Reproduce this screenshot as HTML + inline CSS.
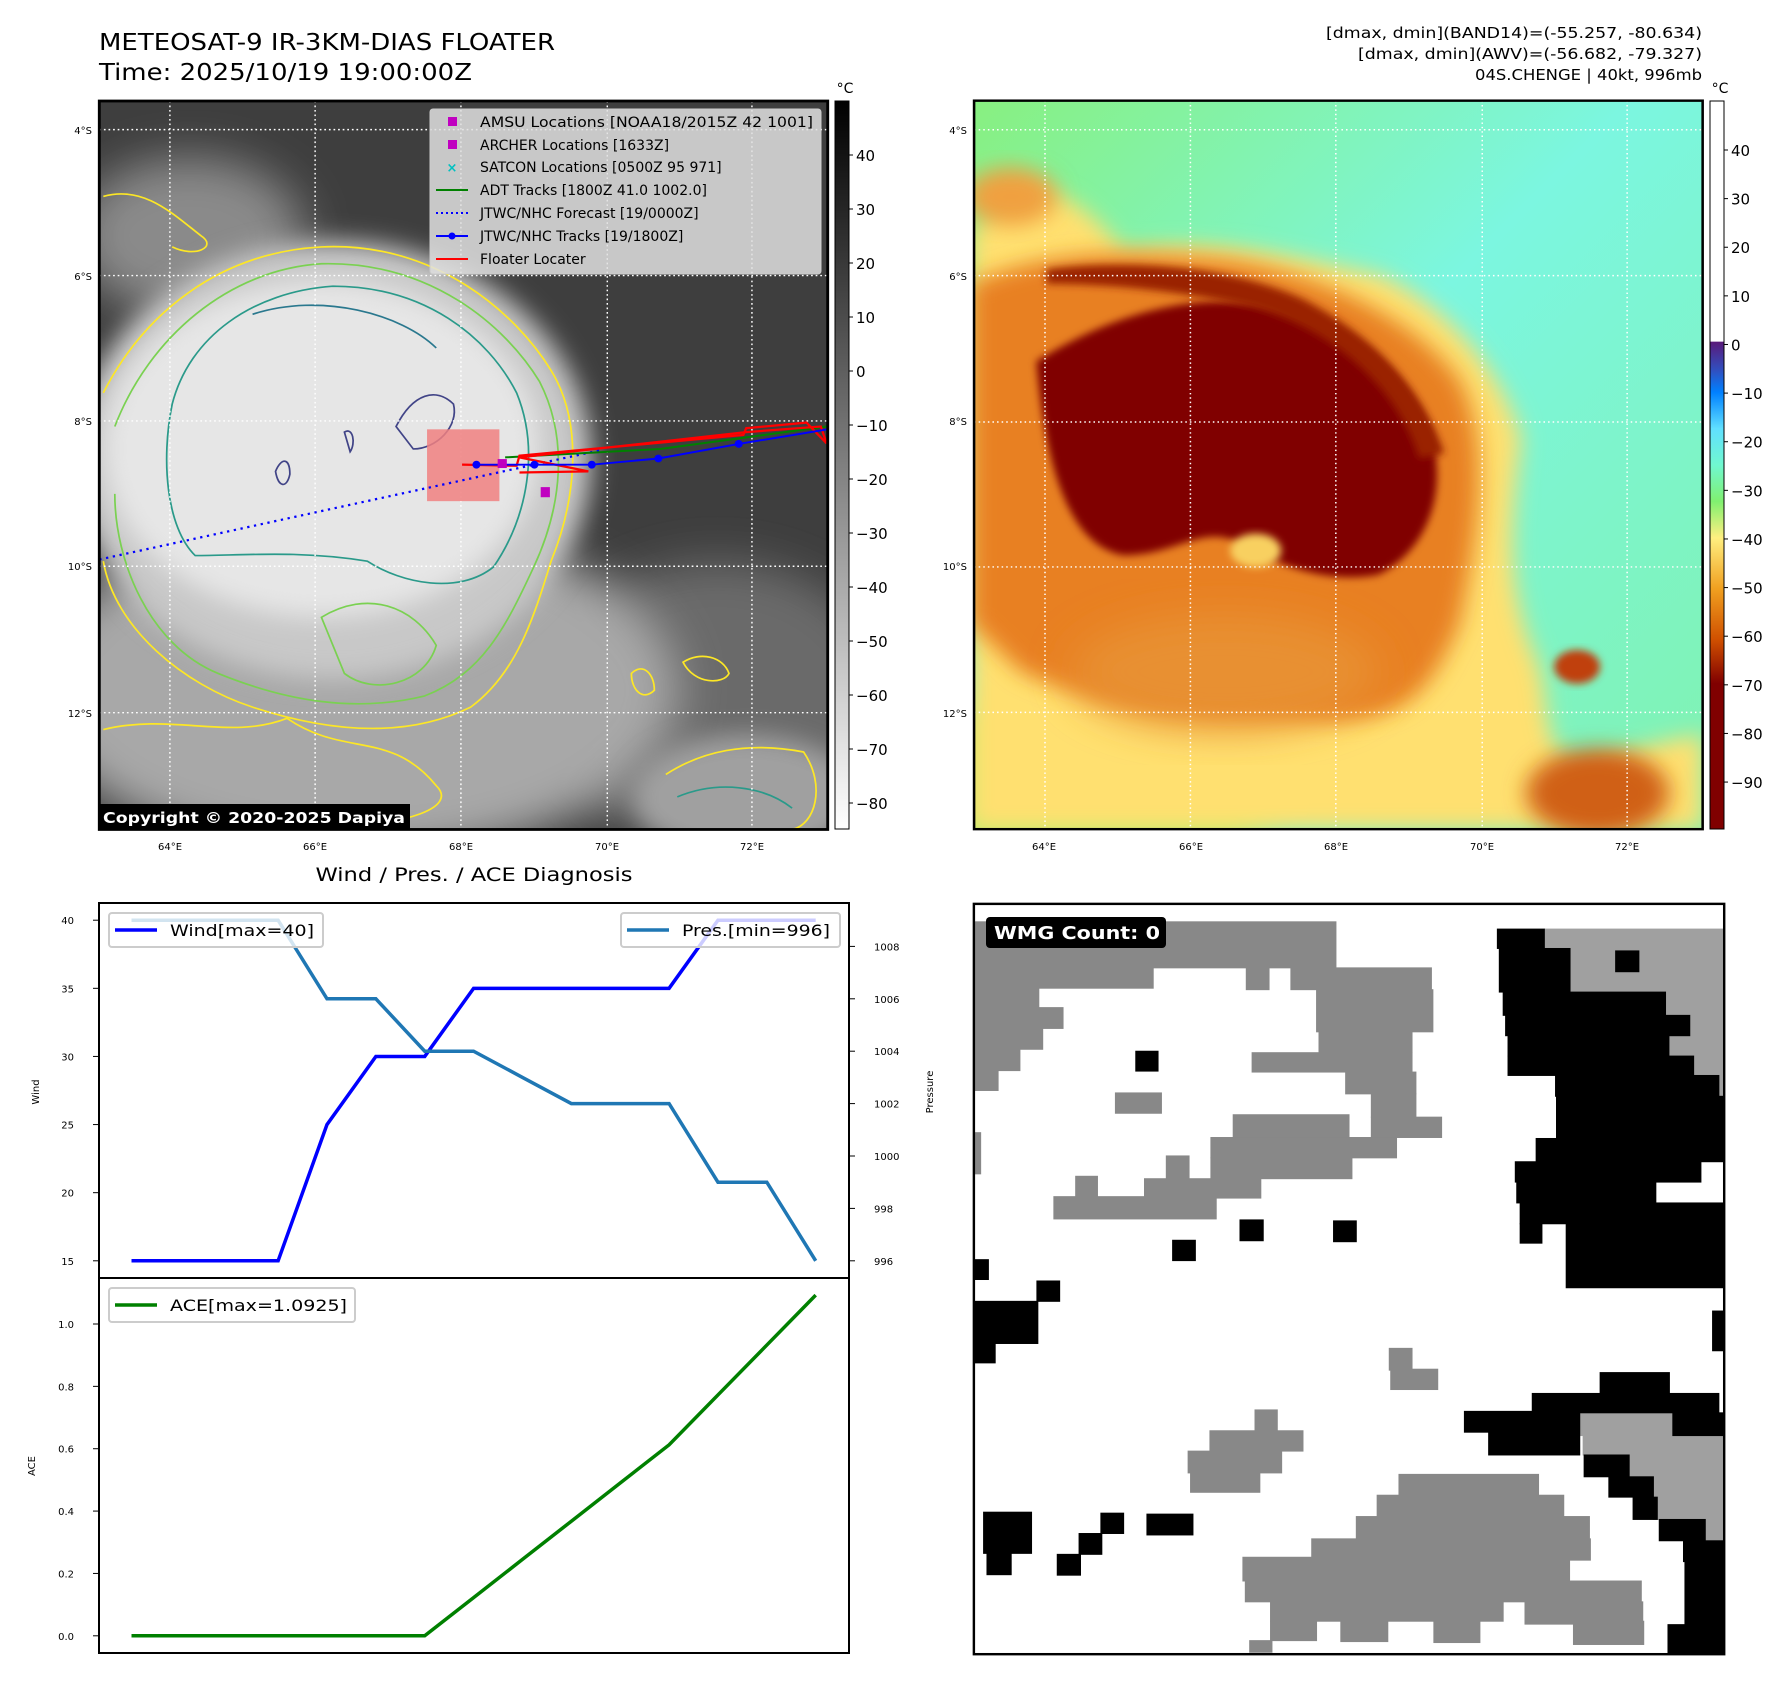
<!DOCTYPE html>
<html><head><meta charset="utf-8"><style>
html,body{margin:0;padding:0;background:#fff;}
svg{display:block;font-family:"DejaVu Sans","Liberation Sans",sans-serif;}
</style></head><body>
<svg id="fig" width="1792" height="1690" viewBox="0 0 1792 1690" xmlns="http://www.w3.org/2000/svg">
<defs>
<filter id="b8" x="-20%" y="-20%" width="140%" height="140%"><feGaussianBlur stdDeviation="8"/></filter>
<filter id="b20" x="-30%" y="-30%" width="160%" height="160%"><feGaussianBlur stdDeviation="22"/></filter>
<filter id="b40" x="-30%" y="-30%" width="160%" height="160%"><feGaussianBlur stdDeviation="40"/></filter>
<clipPath id="clipL"><rect x="173" y="180" width="1269" height="1298"/></clipPath>
<clipPath id="clipR"><rect x="8" y="22" width="1428" height="1503"/></clipPath>
<linearGradient id="cbGray" x1="0" y1="0" x2="0" y2="1"><stop offset="0" stop-color="#000"/><stop offset="1" stop-color="#fff"/></linearGradient>
<linearGradient id="cbColor" x1="0" y1="0" x2="0" y2="1">
<stop offset="0" stop-color="#fff"/><stop offset="0.33" stop-color="#fff"/>
<stop offset="0.331" stop-color="#5a1a7a"/><stop offset="0.37" stop-color="#3050c0"/><stop offset="0.4" stop-color="#0080ff"/>
<stop offset="0.45" stop-color="#60e0ff"/><stop offset="0.5" stop-color="#70f8d0"/><stop offset="0.55" stop-color="#80f070"/>
<stop offset="0.6" stop-color="#ffef80"/><stop offset="0.67" stop-color="#f0a020"/><stop offset="0.74" stop-color="#d05000"/>
<stop offset="0.8" stop-color="#800000"/><stop offset="1" stop-color="#800000"/></linearGradient>
<linearGradient id="bgR" x1="0" y1="0" x2="1" y2="1"><stop offset="0" stop-color="#88f080"/><stop offset="0.45" stop-color="#7cf6e0"/><stop offset="1" stop-color="#80f2b0"/></linearGradient>
</defs>
<rect width="1792" height="1690" fill="#fff"/>

<text x="99" y="50" font-size="23" textLength="456" lengthAdjust="spacingAndGlyphs">METEOSAT-9 IR-3KM-DIAS FLOATER</text>
<text x="99" y="80" font-size="23" textLength="373" lengthAdjust="spacingAndGlyphs">Time: 2025/10/19 19:00:00Z</text>
<g font-size="15">
<text x="1326" y="38" textLength="376" lengthAdjust="spacingAndGlyphs">[dmax, dmin](BAND14)=(-55.257, -80.634)</text>
<text x="1358" y="59" textLength="344" lengthAdjust="spacingAndGlyphs">[dmax, dmin](AWV)=(-56.682, -79.327)</text>
<text x="1475" y="80" textLength="227" lengthAdjust="spacingAndGlyphs">04S.CHENGE | 40kt, 996mb</text>
</g>

<g transform="scale(0.5740,0.5612)">
<g clip-path="url(#clipL)">
<rect x="173" y="180" width="1269" height="1298" fill="#3e3e3e"/>
<ellipse cx="1250" cy="1250" rx="300" ry="250" fill="#6a6a6a" filter="url(#b40)"/>
<ellipse cx="330" cy="420" rx="200" ry="140" fill="#8a8a8a" filter="url(#b40)"/>
<ellipse cx="620" cy="1230" rx="560" ry="300" fill="#a8a8a8" filter="url(#b40)"/>
<ellipse cx="1300" cy="1420" rx="200" ry="110" fill="#a0a0a0" filter="url(#b20)"/>
<ellipse cx="580" cy="820" rx="450" ry="390" fill="#c8c8c8" filter="url(#b20)"/>
<ellipse cx="560" cy="800" rx="380" ry="300" fill="#e6e6e6" filter="url(#b20)"/>
<g fill="none" stroke-width="3">
<path d="M180,700 C250,560 380,450 560,440 C760,430 900,560 960,660 C1020,760 1000,900 960,1000 C930,1100 900,1200 820,1260 C700,1320 560,1300 440,1260 C320,1220 200,1120 180,1000" stroke="#fde725"/>
<path d="M200,760 C260,600 400,480 560,470 C750,465 880,580 940,680 C990,780 980,900 930,1010 C880,1120 840,1200 740,1240 C620,1270 500,1250 380,1200 C260,1150 200,1000 200,880" stroke="#7ad151"/>
<path d="M300,720 C330,600 440,520 580,510 C740,510 850,600 900,700 C940,800 920,920 860,1010 C800,1060 700,1040 640,1000 C520,980 420,990 340,990 C290,940 280,820 300,720" stroke="#2a9a8a"/>
<path d="M440,560 C560,520 700,560 760,620" stroke="#2a788e"/>
<path d="M690,760 C720,700 760,690 790,720 C800,760 760,800 720,800 Z" stroke="#414487"/>
<path d="M480,840 C490,815 505,815 505,845 C500,870 485,870 480,840 Z" stroke="#414487"/>
<path d="M600,770 C615,760 620,790 610,805 Z" stroke="#414487"/>
<path d="M1190,1180 C1220,1160 1260,1170 1270,1200 C1260,1220 1210,1220 1190,1180 Z" stroke="#fde725"/>
<path d="M1100,1200 C1120,1180 1140,1200 1140,1230 C1120,1250 1100,1230 1100,1200 Z" stroke="#fde725"/>
<path d="M180,1300 C300,1270 400,1320 500,1280 C600,1350 680,1300 760,1400 C800,1440 700,1470 600,1470" stroke="#fde725"/>
<path d="M560,1100 C640,1050 720,1080 760,1150 C740,1220 650,1240 600,1200 Z" stroke="#7ad151"/>
<path d="M1160,1380 C1220,1340 1300,1320 1400,1340 C1440,1400 1420,1470 1380,1478" stroke="#fde725"/>
<path d="M1180,1420 C1250,1390 1330,1400 1380,1440" stroke="#2a9a8a"/>
<path d="M180,350 C250,330 300,380 350,420 C380,440 340,460 300,440" stroke="#fde725"/>
</g>
<g stroke="#fff" stroke-width="2.5" stroke-dasharray="3,5">
<line x1="296" y1="180" x2="296" y2="1478"/><line x1="549" y1="180" x2="549" y2="1478"/><line x1="803" y1="180" x2="803" y2="1478"/><line x1="1058" y1="180" x2="1058" y2="1478"/><line x1="1310" y1="180" x2="1310" y2="1478"/>
<line x1="173" y1="231" x2="1442" y2="231"/><line x1="173" y1="491" x2="1442" y2="491"/><line x1="173" y1="750" x2="1442" y2="750"/><line x1="173" y1="1009" x2="1442" y2="1009"/><line x1="173" y1="1270" x2="1442" y2="1270"/>
</g>
<rect x="744" y="765" width="126" height="128" fill="#f08080" fill-opacity="0.85"/>
<polyline points="173,997 1047,802" fill="none" stroke="#0000ff" stroke-width="4" stroke-dasharray="4,8"/>
<polyline points="880,815 1150,800 1440,760" fill="none" stroke="#008000" stroke-width="3.5"/>
<polyline points="805,828 900,830 905,812 1295,775 1300,763 1405,753 1440,790 1430,760 1300,770 905,815 1025,840 905,842" fill="none" stroke="#ff0000" stroke-width="4"/>
<polyline points="830,828 931,828 1031,828 1147,817 1287,791 1442,765" fill="none" stroke="#0000ff" stroke-width="3.5"/>
<g fill="#0000ff"><circle cx="830" cy="828" r="7"/><circle cx="931" cy="828" r="7"/><circle cx="1031" cy="828" r="7"/><circle cx="1147" cy="817" r="7"/><circle cx="1287" cy="791" r="7"/></g>
<rect x="867" y="818" width="16" height="16" fill="#c000c0"/><rect x="942" y="868" width="16" height="18" fill="#c000c0"/>
</g>
<rect x="173" y="180" width="1269" height="1298" fill="none" stroke="#000" stroke-width="5"/>
</g>
<g font-size="14">
<rect x="430" y="109" width="391" height="165" fill="#e0e0e0" fill-opacity="0.85" stroke="#ccc" rx="3"/>
<rect x="448" y="117" width="9" height="9" fill="#c000c0"/><text x="480" y="127" textLength="333" lengthAdjust="spacingAndGlyphs">AMSU Locations [NOAA18/2015Z 42 1001]</text>
<rect x="448" y="140" width="9" height="9" fill="#c000c0"/><text x="480" y="150">ARCHER Locations [1633Z]</text>
<text x="452" y="172" fill="#00c0c0" font-size="13" font-weight="bold" text-anchor="middle">×</text><text x="480" y="172">SATCON Locations [0500Z 95 971]</text>
<line x1="436" y1="190" x2="468" y2="190" stroke="#008000" stroke-width="2"/><text x="480" y="195">ADT Tracks [1800Z 41.0 1002.0]</text>
<line x1="436" y1="213" x2="468" y2="213" stroke="#0000ff" stroke-width="2" stroke-dasharray="2,3"/><text x="480" y="218">JTWC/NHC Forecast [19/0000Z]</text>
<line x1="436" y1="236" x2="468" y2="236" stroke="#0000ff" stroke-width="2"/><circle cx="452" cy="236" r="3.5" fill="#0000ff"/><text x="480" y="241">JTWC/NHC Tracks [19/1800Z]</text>
<line x1="436" y1="259" x2="468" y2="259" stroke="#ff0000" stroke-width="2"/><text x="480" y="264">Floater Locater</text>
</g>
<g><rect x="98" y="804" width="312" height="25" fill="#000"/><text x="103" y="823" font-size="15" font-weight="bold" fill="#fff" textLength="302" lengthAdjust="spacingAndGlyphs">Copyright © 2020-2025 Dapiya</text></g>
<g font-size="10" text-anchor="end">
<text x="92" y="134">4°S</text><text x="92" y="280">6°S</text><text x="92" y="425">8°S</text><text x="92" y="570">10°S</text><text x="92" y="717">12°S</text>
</g>
<g font-size="10" text-anchor="middle">
<text x="170" y="850">64°E</text><text x="315" y="850">66°E</text><text x="461" y="850">68°E</text><text x="607" y="850">70°E</text><text x="752" y="850">72°E</text>
<text x="1044" y="850">64°E</text><text x="1191" y="850">66°E</text><text x="1336" y="850">68°E</text><text x="1482" y="850">70°E</text><text x="1627" y="850">72°E</text>
</g>
<g font-size="10" text-anchor="end">
<text x="967" y="134">4°S</text><text x="967" y="280">6°S</text><text x="967" y="425">8°S</text><text x="967" y="570">10°S</text><text x="967" y="717">12°S</text>
</g>
<g>
<rect x="835" y="101" width="14" height="728" fill="url(#cbGray)" stroke="#000" stroke-width="1"/>
<text x="845" y="93" font-size="14" text-anchor="middle">°C</text>
<g id="cbLticks" font-size="15"></g>
</g>

<g transform="translate(970,90) scale(0.5102,0.4847)">
<g clip-path="url(#clipR)">
<rect x="8" y="22" width="1428" height="1503" fill="url(#bgR)"/>
<ellipse cx="200" cy="1450" rx="400" ry="200" fill="#b8f070" filter="url(#b40)"/>
<path d="M0,300 C100,150 200,200 300,330 C500,300 650,350 800,380 C950,450 1050,600 1080,720 C1060,900 1050,1000 1100,1150 C1150,1250 1100,1350 1200,1400 C1300,1350 1436,1330 1436,1330 L1436,1525 L0,1525 Z" fill="#ffe070" filter="url(#b20)"/>
<path d="M0,400 C150,330 300,330 500,350 C700,380 880,480 960,600 C1020,720 1000,900 960,1100 C900,1250 850,1300 700,1300 C500,1280 300,1300 100,1200 L0,1100 Z" fill="#e88020" filter="url(#b20)"/>
<path d="M130,560 C250,480 400,420 560,440 C720,470 840,560 900,700 C940,820 900,950 800,1000 C700,1020 600,980 520,930 C450,900 400,960 300,960 C200,940 150,800 130,560 Z" fill="#800000" filter="url(#b8)"/>
<path d="M150,370 C300,350 500,360 650,430 C780,500 880,600 930,750 L880,760 C840,620 720,500 560,450 C400,410 250,400 150,400 Z" fill="#9a2000" filter="url(#b8)"/>
<ellipse cx="560" cy="950" rx="50" ry="35" fill="#f8d060" filter="url(#b8)"/>
<ellipse cx="1190" cy="1190" rx="45" ry="35" fill="#c04010" filter="url(#b8)"/>
<ellipse cx="1230" cy="1450" rx="140" ry="90" fill="#d06018" filter="url(#b20)"/>
<ellipse cx="500" cy="1200" rx="300" ry="120" fill="#e89030" filter="url(#b40)"/>
<ellipse cx="80" cy="220" rx="90" ry="60" fill="#f0a040" filter="url(#b20)"/>
<g stroke="#fff" stroke-width="3" stroke-dasharray="3,6">
<line x1="147" y1="22" x2="147" y2="1525"/><line x1="432" y1="22" x2="432" y2="1525"/><line x1="717" y1="22" x2="717" y2="1525"/><line x1="1004" y1="22" x2="1004" y2="1525"/><line x1="1288" y1="22" x2="1288" y2="1525"/>
<line x1="8" y1="82" x2="1436" y2="82"/><line x1="8" y1="383" x2="1436" y2="383"/><line x1="8" y1="685" x2="1436" y2="685"/><line x1="8" y1="984" x2="1436" y2="984"/><line x1="8" y1="1284" x2="1436" y2="1284"/>
</g>
</g>
<rect x="8" y="22" width="1428" height="1503" fill="none" stroke="#000" stroke-width="5"/>
</g>
<g>
<rect x="1710" y="101" width="14" height="728" fill="url(#cbColor)" stroke="#000" stroke-width="1"/>
<text x="1720" y="93" font-size="14" text-anchor="middle">°C</text>
<g id="cbRticks" font-size="15"></g>
</g>

<g transform="translate(970,900) scale(0.4847)">
<rect x="8" y="8" width="1548" height="1548" fill="#fff"/>
<g id="wmg"></g>
<rect x="8" y="8" width="1548" height="1548" fill="none" stroke="#000" stroke-width="5"/>
</g>
<g><rect x="986" y="917" width="180" height="31" rx="4" fill="#000"/><text x="994" y="939" font-size="18" font-weight="bold" fill="#fff" textLength="166" lengthAdjust="spacingAndGlyphs">WMG Count: 0</text></g>

<text x="474" y="881" font-size="19" text-anchor="middle" textLength="317" lengthAdjust="spacingAndGlyphs">Wind / Pres. / ACE Diagnosis</text>
<g id="chart"></g>
<text transform="translate(39,1092) rotate(-90)" font-size="10" text-anchor="middle">Wind</text>
<text transform="translate(933,1092) rotate(-90)" font-size="10" text-anchor="middle">Pressure</text>
<text transform="translate(35,1466) rotate(-90)" font-size="10" text-anchor="middle">ACE</text>
</svg>
<script>
const windValues = [15,15,15,15,25,30,30,35,35,35,35,35,40,40,40];
const pressureValues = [1009,1009,1009,1009,1006,1006,1004,1004,1003,1002,1002,1002,999,999,996];
const aceValues = [0,0,0,0,0,0,0,0.1225,0.245,0.3675,0.49,0.6125,0.7725,0.9325,1.0925];
const windTicks = [15,20,25,30,35,40];
const pressureTicks = [996,998,1000,1002,1004,1006,1008];
const aceTicks = [0.0,0.2,0.4,0.6,0.8,1.0];
const irCbTicks = [40,30,20,10,0,-10,-20,-30,-40,-50,-60,-70,-80];
const awvCbTicks = [40,30,20,10,0,-10,-20,-30,-40,-50,-60,-70,-80,-90];

const NS='http://www.w3.org/2000/svg';
function mk(parent,tag,attrs,text){const e=document.createElementNS(NS,tag);for(const k in attrs)e.setAttribute(k,attrs[k]);if(text!==undefined)e.textContent=text;parent.appendChild(e);return e;}
const xS=i=>131.5+i*(815.7-131.5)/(windValues.length-1);
const yW=v=>1260.8+(v-15)*(920.2-1260.8)/25;
const yP=v=>1260.8+(v-996)*(946.4-1260.8)/12;
const yA=v=>1635.8+v*(1324-1635.8);
const g=document.getElementById('chart');

function fmtM(v){return v<0?'\u2212'+Math.abs(v):String(v);}
const cl=document.getElementById('cbLticks');
irCbTicks.forEach(v=>{const y=155+(40-v)*5.4;mk(cl,'line',{x1:849,x2:853,y1:y,y2:y,stroke:'#000'});
const t=mk(cl,'text',{x:856,y:y+6},fmtM(v));});
const cr=document.getElementById('cbRticks');
awvCbTicks.forEach(v=>{const y=150+(40-v)*4.862;mk(cr,'line',{x1:1724,x2:1728,y1:y,y2:y,stroke:'#000'});
const t=mk(cr,'text',{x:1731,y:y+6},fmtM(v));});

const f1=mk(g,'rect',{x:99,y:903,width:750,height:375,fill:'none',stroke:'#000','stroke-width':2});

const f2=mk(g,'rect',{x:99,y:1278,width:750,height:375,fill:'none',stroke:'#000','stroke-width':2});

windTicks.forEach(v=>{const y=yW(v);mk(g,'line',{x1:93,x2:99,y1:y,y2:y,stroke:'#000'});
const t=mk(g,'text',{x:74,y:y+4,'font-size':10,'text-anchor':'end'},v);});
pressureTicks.forEach(v=>{const y=yP(v);mk(g,'line',{x1:849,x2:855,y1:y,y2:y,stroke:'#000'});
const t=mk(g,'text',{x:874,y:y+4,'font-size':10},v);});
aceTicks.forEach(v=>{const y=yA(v);mk(g,'line',{x1:93,x2:99,y1:y,y2:y,stroke:'#000'});
const t=mk(g,'text',{x:74,y:y+4,'font-size':10,'text-anchor':'end'},v.toFixed(1));});

const wl=mk(g,'polyline',{points:windValues.map((v,i)=>xS(i)+','+yW(v)).join(' '),fill:'none',stroke:'#0000ff','stroke-width':3.5});

const pl=mk(g,'polyline',{points:pressureValues.map((v,i)=>xS(i)+','+yP(v)).join(' '),fill:'none',stroke:'#1f77b4','stroke-width':3.5});

const al=mk(g,'polyline',{points:aceValues.map((v,i)=>xS(i)+','+yA(v)).join(' '),fill:'none',stroke:'#008000','stroke-width':3.5});


function legend(x,y,w,color,label,tl,name){const lg=mk(g,'g',{});
mk(lg,'rect',{x:x,y:y,width:w,height:34,rx:3,fill:'#fff','fill-opacity':0.8,stroke:'#ccc','stroke-width':2});
mk(lg,'line',{x1:x+6,x2:x+48,y1:y+17,y2:y+17,stroke:color,'stroke-width':3.5});
mk(lg,'text',{x:x+61,y:y+23,'font-size':16,textLength:tl,lengthAdjust:'spacingAndGlyphs'},label);}
legend(109,913,214,'#0000ff','Wind[max=40]',144,'wind-legend');
legend(621,913,219,'#1f77b4','Pres.[min=996]',148,'pressure-legend');
legend(109,1288,246,'#008000','ACE[max=1.0925]',177,'ace-legend');

const grayRects=[[10,45,755,140],[10,140,378,182],[570,140,617,185],[662,140,952,185],[715,185,955,272],[10,182,142,222],[10,222,192,265],[10,265,150,308],[10,308,103,352],[10,352,58,393],[720,272,912,315],[582,315,912,355],[775,355,920,400],[828,400,920,448],[828,448,973,490],[543,443,782,490],[497,490,880,532],[497,532,788,575],[405,528,452,575],[360,575,600,615],[218,570,263,612],[173,612,508,658],[300,398,395,440],[10,480,22,565],[865,925,912,970],[868,968,965,1010],[588,1052,634,1095],[495,1095,687,1137],[450,1137,643,1182],[455,1182,598,1222],[885,1185,1173,1228],[840,1228,1225,1272],[797,1272,1278,1318],[705,1318,1280,1362],[563,1356,1237,1405],[568,1405,1385,1448],[620,1448,1100,1488],[1145,1448,1388,1494],[620,1488,715,1528],[765,1488,862,1530],[957,1488,1052,1532],[1245,1488,1390,1536],[577,1528,623,1552]];
const lightRects=[[1185,60,1555,100],[1238,100,1555,190],[1435,190,1555,238],[1485,238,1555,280],[1442,280,1555,322],[1493,322,1555,365],[1545,365,1555,450],[1258,1058,1450,1105],[1265,1105,1555,1145],[1360,1145,1555,1190],[1410,1190,1555,1278],[1517,1278,1555,1365]];
const blackRects=[[1088,60,1185,100],[1092,100,1238,190],[1100,190,1435,238],[1105,238,1485,280],[1110,280,1442,322],[1110,322,1493,362],[1208,362,1545,405],[1210,405,1555,492],[1168,492,1555,540],[1125,540,1508,582],[1128,582,1415,625],[1135,625,1555,668],[1135,668,1180,708],[1230,668,1555,800],[1332,105,1380,148],[342,312,388,353],[557,660,605,703],[750,662,797,705],[418,702,465,744],[10,742,38,783],[138,786,185,828],[10,828,140,915],[10,915,52,955],[1532,848,1555,930],[1300,975,1443,1018],[1160,1018,1545,1058],[1020,1055,1160,1098],[1070,1058,1258,1145],[1450,1058,1555,1105],[1267,1145,1360,1190],[1318,1190,1410,1232],[1368,1232,1418,1278],[1422,1278,1517,1322],[1472,1322,1555,1365],[1475,1365,1555,1555],[1440,1495,1475,1555],[28,1263,127,1348],[35,1348,85,1392],[270,1265,317,1307],[225,1307,272,1350],[180,1350,228,1393],[365,1267,460,1310]];
const wg=document.getElementById('wmg');
[[grayRects,'#888888'],[lightRects,'#a0a0a0'],[blackRects,'#000000']].forEach(([arr,c])=>arr.forEach(r=>{
const e=mk(wg,'rect',{x:r[0],y:r[1],width:r[2]-r[0],height:r[3]-r[1],fill:c,stroke:c,'stroke-width':2});
}));
</script>
</body></html>
